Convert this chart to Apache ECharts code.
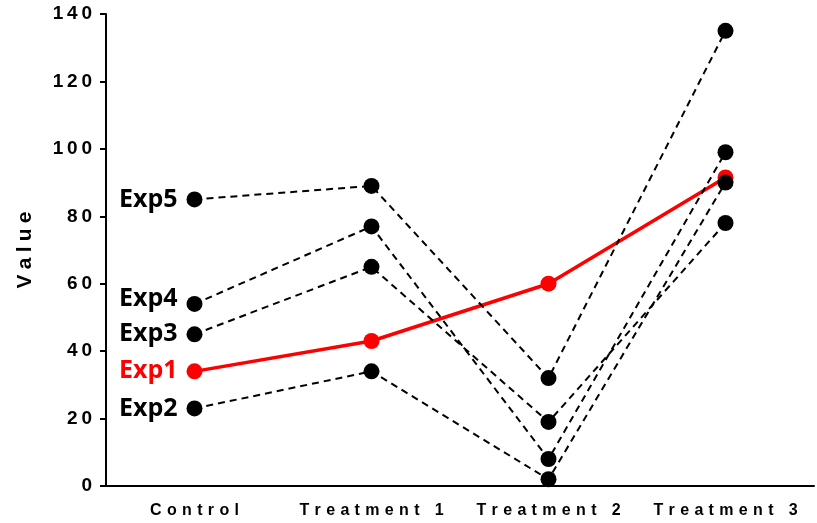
<!DOCTYPE html>
<html>
<head>
<meta charset="utf-8">
<script src="https://cdn.jsdelivr.net/npm/echarts@6/dist/echarts.min.js"></script>
<style>
  html, body { margin: 0; padding: 0; background: #fff; }
  #chart { width: 817px; height: 523px; }
</style>
</head>
<body>
<div id="chart"></div>
<script>
// Paired measurements across conditions, one line per experiment
const categories = ['Control', 'Treatment 1', 'Treatment 2', 'Treatment 3'];
const exp1 = [34, 43, 60, 91.5];
const exp2 = [23, 34, 2, 90];
const exp3 = [45, 65, 19, 78];
const exp4 = [54, 77, 8, 99];
const exp5 = [85, 89, 32, 135];
const yMin = 0, yMax = 140, yStep = 20;

// widen text by putting a narrow space between characters
const spaced = (s, sep) => String(s).split('').join(sep);

function makeSeries(name, values, highlight, labelOffset) {
  const color = highlight ? '#ff0000' : '#000000';
  return {
    name: name,
    type: 'line',
    symbol: 'circle',
    symbolSize: 16,
    itemStyle: { color: color },
    lineStyle: highlight
      ? { color: color, width: 3.5, type: 'solid' }
      : { color: color, width: 2, type: [7, 5] },
    data: values.map((v, i) => i === 0 ? {
      value: v,
      label: {
        show: true,
        position: 'left',
        distance: 9,
        offset: labelOffset || [0, 0],
        formatter: name,
        color: color,
        fontFamily: 'Open Sans',
        fontWeight: 'bold',
        fontSize: 25
      }
    } : v),
    emphasis: { disabled: true },
    z: highlight ? 2 : 3
  };
}

const chart = echarts.init(document.getElementById('chart'), null, { renderer: 'canvas' });
chart.setOption({
  animation: false,
  backgroundColor: '#ffffff',
  grid: { left: 106, right: 3, top: 14, bottom: 37, containLabel: false },
  xAxis: {
    type: 'category',
    data: categories,
    boundaryGap: true,
    axisLine: { lineStyle: { color: '#000', width: 2 } },
    axisTick: { alignWithLabel: true, length: 6, lineStyle: { color: '#000', width: 2 } },
    axisLabel: {
      interval: 0,
      margin: 17,
      color: '#000',
      fontFamily: 'Liberation Sans',
      fontWeight: 'bold',
      fontSize: 16,
      formatter: v => spaced(v, '\u2004')
    },
    splitLine: { show: false }
  },
  yAxis: {
    type: 'value',
    min: yMin,
    max: yMax,
    interval: yStep,
    name: spaced('Value', '\u2005'),
    nameLocation: 'middle',
    nameGap: 70,
    nameTextStyle: {
      color: '#000',
      fontFamily: 'Liberation Sans',
      fontWeight: 'bold',
      fontSize: 21
    },
    axisLine: { show: true, lineStyle: { color: '#000', width: 2 } },
    axisTick: { show: true, length: 6, lineStyle: { color: '#000', width: 2 } },
    axisLabel: {
      margin: 14,
      color: '#000',
      fontFamily: 'Liberation Sans',
      fontWeight: 'bold',
      fontSize: 19,
      formatter: v => spaced(v, '\u2009')
    },
    splitLine: { show: false }
  },
  series: [
    makeSeries('Exp1', exp1, true),
    makeSeries('Exp2', exp2, false),
    makeSeries('Exp3', exp3, false),
    makeSeries('Exp4', exp4, false, [0, -5]),
    makeSeries('Exp5', exp5, false)
  ]
});
</script>
</body>
</html>
